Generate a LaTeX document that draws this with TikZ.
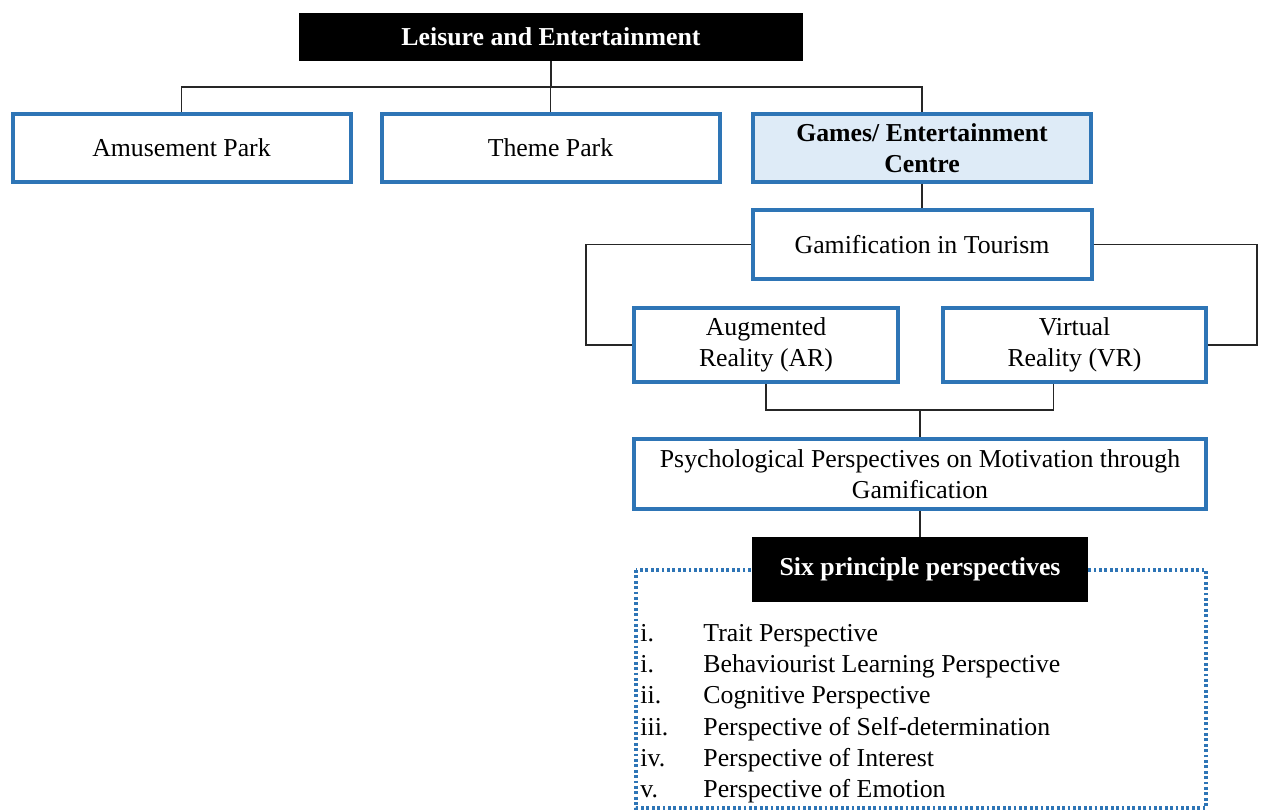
\documentclass[tikz,border=0pt]{standalone}
\usepackage{fontspec}
\setmainfont{Liberation Serif}
\definecolor{boxblue}{RGB}{46,117,182}
\definecolor{paleblue}{RGB}{222,235,247}
\newcommand{\chartfont}{\fontsize{12.9}{15.5}\selectfont}
\tikzset{
    topic/.style = {draw = boxblue, line width = 2pt, fill = white, inner sep = 0pt, align = center},
    headbox/.style = {fill = black, text = white, font = \chartfont\bfseries, inner sep = 0pt},
    link/.style = {line width = 0.6pt, draw = black!85},
    listitem/.style = {anchor = base west, inner sep = 0pt}
}
\begin{document}
\begin{tikzpicture}[x = 0.5pt, y = -0.5pt, font = \chartfont]
    \useasboundingbox (0,0) rectangle (1262,812);
    % top level
    \node[headbox, minimum width = 252pt, minimum height = 24pt] (leisure) at (551,37) {Leisure and Entertainment};
    \node[topic, minimum width = 169pt, minimum height = 34pt] (amuse) at (181.5,148) {Amusement Park};
    \node[topic, minimum width = 169pt, minimum height = 34pt] (theme) at (550.5,148) {Theme Park};
    \node[topic, fill = paleblue, font = \chartfont\bfseries, minimum width = 169pt, minimum height = 34pt] (games) at (922,148) {Games/ Entertainment\\Centre};
    \coordinate (bar) at (551,87);
    \draw[link] (leisure.south) -- (bar);
    \draw[link] (amuse.north) |- (bar) -| (games.north);
    \draw[link] (theme.north) -- (theme.north |- bar);
    % gamification branch
    \node[topic, minimum width = 169.5pt, minimum height = 34.5pt] (gamif) at (922,244.5) {Gamification in Tourism};
    \node[topic, minimum width = 132pt, minimum height = 37pt] (ar) at (766,345) {Augmented\\Reality (AR)};
    \node[topic, minimum width = 131.5pt, minimum height = 37pt] (vr) at (1074.5,345) {Virtual\\Reality (VR)};
    \draw[link] (games.south) -- (gamif.north);
    \coordinate (lbend) at (586,244.5);
    \coordinate (rbend) at (1257,244.5);
    \draw[link] (gamif.west) -- (lbend) |- (ar.west);
    \draw[link] (gamif.east) -- (rbend) |- (vr.east);
    % motivation
    \node[topic, minimum width = 286pt, minimum height = 35pt] (psych) at (920,474) {Psychological Perspectives on Motivation through\\Gamification};
    \coordinate (join) at (920,410);
    \draw[link] (ar.south) |- ([xshift = -10.5pt]vr.south |- join) -- ([xshift = -10.5pt]vr.south);
    \draw[link] (join) -- (psych.north);
    % six perspectives
    \draw[boxblue, line width = 1.7pt, dash pattern = on 1.4pt off 1.3pt] (636,570) rectangle (1206,808);
    \node[headbox, minimum width = 168pt, minimum height = 32.5pt] (six) at (920,569.5) {Six principle perspectives};
    \draw[link] (psych.south) -- (six.north);
    \node[listitem] (n1) at (640,641) {i.};
    \node[listitem] (n2) at (640,672) {i.};
    \node[listitem] (n3) at (640,703) {ii.};
    \node[listitem] (n4) at (640,735) {iii.};
    \node[listitem] (n5) at (640,766) {iv.};
    \node[listitem] (n6) at (640,797) {v.};
    \node[listitem] (p1) at (703,641) {Trait Perspective};
    \node[listitem] (p2) at (703,672) {Behaviourist Learning Perspective};
    \node[listitem] (p3) at (703,703) {Cognitive Perspective};
    \node[listitem] (p4) at (703,735) {Perspective of Self-determination};
    \node[listitem] (p5) at (703,766) {Perspective of Interest};
    \node[listitem] (p6) at (703,797) {Perspective of Emotion};
\end{tikzpicture}
\end{document}
